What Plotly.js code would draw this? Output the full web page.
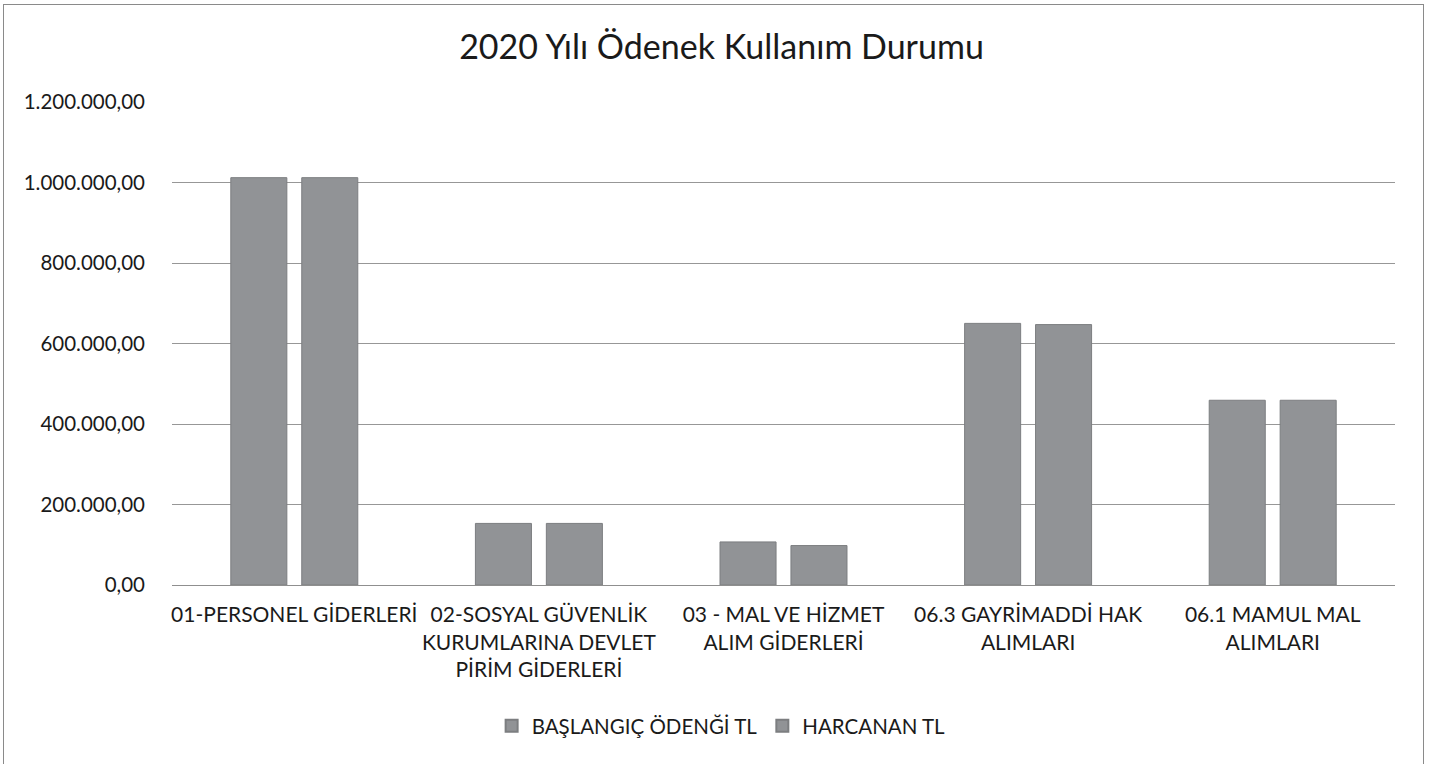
<!DOCTYPE html>
<html>
<head>
<meta charset="utf-8">
<script src="https://cdn.plot.ly/plotly-3.0.1.min.js"></script>
<style>
  html, body { margin: 0; padding: 0; background: #fff; }
  #frame { position: absolute; left: 3px; top: 4px; width: 1421px; height: 800px; border: 1px solid #8a8a8a; box-sizing: border-box; pointer-events: none; z-index: 5; }
  #chart { position: absolute; left: 0; top: 0; width: 1443px; height: 764px; }
</style>
</head>
<body>
<div id="chart"></div>
<div id="frame"></div>
<script>
const categories = [
  "01-PERSONEL GİDERLERİ",
  "02-SOSYAL GÜVENLİK<br>KURUMLARINA DEVLET<br>PİRİM GİDERLERİ",
  "03 - MAL VE HİZMET<br>ALIM GİDERLERİ",
  "06.3 GAYRİMADDİ HAK<br>ALIMLARI",
  "06.1 MAMUL MAL<br>ALIMLARI"
];
const baslangic = [1012000, 153000, 107000, 650000, 459000];
const harcanan  = [1012000, 153000, 98000, 647000, 459000];
const seriesNames = ["BAŞLANGIÇ ÖDENĞİ TL", "HARCANAN TL"];
const yTicks = [0, 200000, 400000, 600000, 800000, 1000000, 1200000];

const FONT = "Lato, 'Open Sans', sans-serif";
const TXT = "#1a1a1a";
const barStyle = { color: "#919396", line: { color: "#7c7e80", width: 1 } };

const data = [
  { type: "bar", name: seriesNames[0], x: categories, y: baslangic, marker: barStyle, hoverinfo: "y" },
  { type: "bar", name: seriesNames[1], x: categories, y: harcanan, marker: barStyle, hoverinfo: "y" }
];

const layout = {
  width: 1443, height: 764,
  margin: { l: 172, r: 48, t: 102, b: 179 },
  paper_bgcolor: "#fff", plot_bgcolor: "#fff",
  separators: ",.",
  font: { family: FONT, color: TXT, size: 20 },
  title: { text: "2020 Yılı Ödenek Kullanım Durumu", font: { family: FONT, size: 34, color: TXT }, x: 0.5, xanchor: "center", y: 1 - 47/764, yanchor: "middle" },
  barmode: "group",
  bargap: 0.42,
  bargroupgap: 0.21,
  xaxis: {
    type: "category",
    showgrid: false,
    showline: true, linecolor: "#8f8f8f", linewidth: 1,
    ticks: "", tickangle: 0, tickfont: { family: FONT, size: 21, color: TXT },
    ticklabelstandoff: 11,
    fixedrange: true
  },
  yaxis: {
    range: [0, 1200000],
    tickvals: yTicks,
    tickformat: ",.2f",
    showgrid: true, gridcolor: "#979797", gridwidth: 1,
    zeroline: false, showline: false,
    ticks: "", tickfont: { family: FONT, size: 20.5, color: TXT },
    ticklabelstandoff: 26,
    fixedrange: true
  },
  showlegend: true,
  legend: {
    orientation: "h", x: 0.449, xanchor: "center", y: (585 - 726) / 483, yanchor: "middle",
    font: { family: FONT, size: 20.5, color: TXT },
    itemsizing: "constant", traceorder: "normal", itemwidth: 30
  }
};

Plotly.newPlot("chart", data, layout, { displayModeBar: false, staticPlot: true });
</script>
</body>
</html>
